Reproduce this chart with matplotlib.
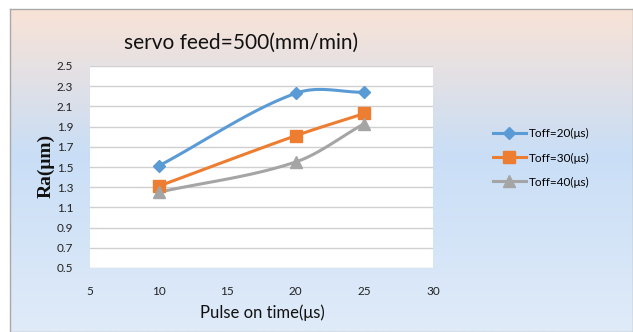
import numpy as np
import matplotlib
matplotlib.use("Agg")
import matplotlib.pyplot as plt
from matplotlib.colors import LinearSegmentedColormap
from matplotlib.lines import Line2D

pulse_on = [10, 20, 25]
toff20 = [1.51, 2.23, 2.24]
toff30 = [1.31, 1.81, 2.03]
toff40 = [1.25, 1.55, 1.93]
series_labels = ["Toff=20(μs)", "Toff=30(μs)", "Toff=40(μs)"]
x_ticks = [5, 10, 15, 20, 25, 30]
y_ticks = [0.5, 0.7, 0.9, 1.1, 1.3, 1.5, 1.7, 1.9, 2.1, 2.3, 2.5]


def smooth(xs, ys, n=40):
    # non-uniform cardinal (Hermite/Bezier) smoothing, like Excel smoothed lines
    xs = np.asarray(xs, float); ys = np.asarray(ys, float)
    k = len(xs)
    slopes = np.zeros(k)
    for i in range(k):
        if i == 0:
            slopes[i] = (ys[1] - ys[0]) / (xs[1] - xs[0])
        elif i == k - 1:
            slopes[i] = (ys[-1] - ys[-2]) / (xs[-1] - xs[-2])
        else:
            slopes[i] = (ys[i + 1] - ys[i - 1]) / (xs[i + 1] - xs[i - 1])
    outx, outy = [], []
    for i in range(k - 1):
        h = xs[i + 1] - xs[i]
        t = np.linspace(0, 1, n)
        h00 = 2 * t ** 3 - 3 * t ** 2 + 1
        h10 = t ** 3 - 2 * t ** 2 + t
        h01 = -2 * t ** 3 + 3 * t ** 2
        h11 = t ** 3 - t ** 2
        outx.extend(xs[i] + t * h)
        outy.extend(h00 * ys[i] + h10 * h * slopes[i] + h01 * ys[i + 1] + h11 * h * slopes[i + 1])
    return np.array(outx), np.array(outy)


W, H = 633, 332
fig = plt.figure(figsize=(W / 100, H / 100), dpi=100)
fig.patch.set_facecolor("white")

# gradient background
bg = fig.add_axes([10 / W, 0, 1 - 10 / W, 1 - 9 / H])
cmap = LinearSegmentedColormap.from_list(
    "g", [(0, "#f9e3d6"), (0.45, "#c9def6"), (1, "#e0ebf9")])
grad = np.linspace(0, 1, 256).reshape(-1, 1)
bg.imshow(grad, aspect="auto", cmap=cmap, extent=[0, 1, 0, 1], origin="upper")
bg.set_xticks([]); bg.set_yticks([])
for s in bg.spines.values():
    s.set_color("#a9a9a9"); s.set_linewidth(1)
bg.set_zorder(0)

ax = fig.add_axes([90 / W, 1 - 268 / H, (433 - 90) / W, (268 - 66) / H])
ax.set_zorder(1)
ax.set_facecolor("white")
ax.set_xlim(5, 30)
ax.set_ylim(0.5, 2.5)
ax.set_xticks(x_ticks)
ax.set_yticks(y_ticks)
ax.set_yticklabels([f"{v:.1f}" for v in y_ticks])
ax.grid(axis="y", color="#d0d0d0", linewidth=1)
ax.set_axisbelow(True)
for s in ax.spines.values():
    s.set_visible(False)
ax.tick_params(length=0, labelsize=8.5, colors="#222222")
ax.tick_params(axis="y", pad=12)
ax.tick_params(axis="x", pad=13)
for lab in ax.get_xticklabels() + ax.get_yticklabels():
    lab.set_fontfamily("Lato")

colors = ["#5b9bd5", "#ed7d31", "#a5a5a5"]
markers = ["D", "s", "^"]
msizes = [6, 8, 8]
for ys, c, m, ms in zip([toff20, toff30, toff40], colors, markers, msizes):
    sx, sy = smooth(pulse_on, ys)
    ax.plot(sx, sy, color=c, linewidth=2.2, solid_capstyle="round", zorder=3)
    ax.plot(pulse_on, ys, linestyle="none", marker=m, markersize=ms, color=c, zorder=4)

fig.text(241 / W, 1 - 43 / H, "servo feed=500(mm/min)", fontsize=15,
         family="Lato", ha="center", va="center", color="#111111")
fig.text(262 / W, 1 - 313 / H, "Pulse on time(μs)", fontsize=12,
         family="Lato", ha="center", va="center", color="#111111")
fig.text(46 / W, 1 - 166 / H, "Ra(μm)", fontsize=14, family="Liberation Serif",
         fontweight="bold", rotation=90, ha="center", va="center", color="#111111")

handles = [Line2D([0], [0], color=c, linewidth=2.2, marker=m, markersize=ms)
           for c, m, ms in zip(colors, markers, msizes)]
leg = fig.legend(handles, series_labels, loc="center left",
                 bbox_to_anchor=(482 / W, 1 - 158 / H), frameon=False,
                 prop={"family": "Lato", "size": 8.5}, labelspacing=1.1,
                 handlelength=2.8, handletextpad=0.3)
leg.set_zorder(5)

fig.savefig("out.png", dpi=100)
